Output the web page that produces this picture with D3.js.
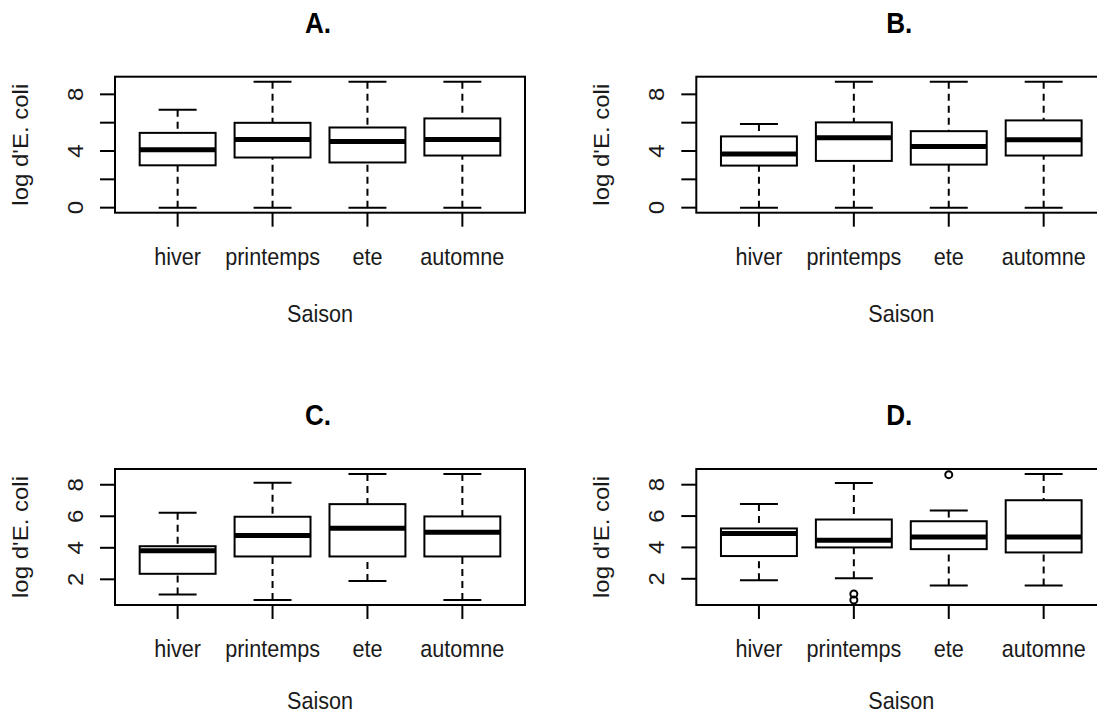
<!DOCTYPE html>
<html>
<head>
<meta charset="utf-8">
<script src="https://cdn.jsdelivr.net/npm/d3@7"></script>
<style>
  html, body { margin: 0; padding: 0; background: #fff; }
  svg { display: block; }
  text { font-family: "Liberation Sans", Arial, sans-serif; fill: #1a1a1a; }
</style>
</head>
<body>
<svg id="chart" width="1097" height="715"></svg>
<script>
// ---------------- data ----------------
const seasons = ["hiver", "printemps", "ete", "automne"];
const panelTitles = ["A.", "B.", "C.", "D."];
const xTitle = "Saison";
const yTitle = "log d'E. coli";

// five-number summaries per season: [lower whisker, Q1, median, Q3, upper whisker]
const statsA = [[0, 2.99, 4.08, 5.28, 6.91], [0, 3.54, 4.81, 5.99, 8.89], [0, 3.19, 4.67, 5.66, 8.89], [0, 3.68, 4.81, 6.30, 8.89]];
const statsB = [[0, 2.97, 3.79, 5.03, 5.90], [0, 3.30, 4.93, 6.02, 8.89], [0, 3.04, 4.32, 5.40, 8.89], [0, 3.68, 4.79, 6.16, 8.89]];
const statsC = [[1.03, 2.35, 3.81, 4.10, 6.22], [0.69, 3.45, 4.78, 5.97, 8.12], [1.90, 3.45, 5.24, 6.77, 8.68], [0.69, 3.45, 4.99, 5.99, 8.68]];
const statsD = [[1.90, 3.45, 4.89, 5.21, 6.77], [2.03, 4.00, 4.46, 5.78, 8.11], [1.58, 3.89, 4.67, 5.67, 6.35], [1.58, 3.68, 4.67, 7.01, 8.68]];
const outliersNone = [[], [], [], []];
const outliersD = [[], [1.03, 0.65], [8.64], []];

const yTicksTop = [0, 2, 4, 6, 8];
const yTickLabelsTop = ["0", "", "4", "", "8"];
const yTicksBottom = [2, 4, 6, 8];
const yTickLabelsBottom = ["2", "4", "6", "8"];

// ---------------- layout ----------------
const W = 1097, H = 715;
const PLOT_W = 410, PLOT_H = 136;
const panels = [
  { title: panelTitles[0], stats: statsA, outliers: outliersNone, ticks: yTicksTop, tickLabels: yTickLabelsTop, left: 115, top: 76.7 },
  { title: panelTitles[1], stats: statsB, outliers: outliersNone, ticks: yTicksTop, tickLabels: yTickLabelsTop, left: 696.3, top: 76.7 },
  { title: panelTitles[2], stats: statsC, outliers: outliersNone, ticks: yTicksBottom, tickLabels: yTickLabelsBottom, left: 115, top: 469 },
  { title: panelTitles[3], stats: statsD, outliers: outliersD, ticks: yTicksBottom, tickLabels: yTickLabelsBottom, left: 696.3, top: 469 }
];

const FS = 24, SX = 0.9, TITLE_FS = 29;
const svg = d3.select("#chart");

panels.forEach(p => {
  const g = svg.append("g");
  const left = p.left, right = p.left + PLOT_W, top = p.top, bottom = p.top + PLOT_H;

  // R-style scales: x over [0.5, n+0.5] extended 4%, y over data range extended 4%
  const n = seasons.length;
  const x = d3.scaleLinear().domain([0.5 - 0.04 * n, n + 0.5 + 0.04 * n]).range([left, right]);
  const allVals = p.stats.flat().concat(p.outliers.flat());
  const lo = d3.min(allVals), hi = d3.max(allVals), r = hi - lo;
  const y = d3.scaleLinear().domain([lo - 0.04 * r, hi + 0.04 * r]).range([bottom, top]);

  const boxW = x(1.4) - x(0.6);
  const capW = boxW / 2;

  p.stats.forEach((s, i) => {
    const cx = x(i + 1);
    const [wl, q1, med, q3, wh] = s;
    // whiskers (dashed) drawn from extreme toward box
    g.append("line").attr("x1", cx).attr("x2", cx).attr("y1", y(wl)).attr("y2", y(q1))
      .attr("stroke", "#000").attr("stroke-width", 2).attr("stroke-dasharray", "7,5");
    g.append("line").attr("x1", cx).attr("x2", cx).attr("y1", y(wh)).attr("y2", y(q3))
      .attr("stroke", "#000").attr("stroke-width", 2).attr("stroke-dasharray", "7,5");
    // caps
    [wl, wh].forEach(v => {
      g.append("line").attr("x1", cx - capW / 2).attr("x2", cx + capW / 2).attr("y1", y(v)).attr("y2", y(v))
        .attr("stroke", "#000").attr("stroke-width", 2);
    });
    // box
    g.append("rect").attr("x", cx - boxW / 2).attr("y", y(q3)).attr("width", boxW).attr("height", y(q1) - y(q3))
      .attr("fill", "#fff").attr("stroke", "#000").attr("stroke-width", 2);
    // median
    g.append("line").attr("x1", cx - boxW / 2).attr("x2", cx + boxW / 2).attr("y1", y(med)).attr("y2", y(med))
      .attr("stroke", "#000").attr("stroke-width", 5);
    // outliers
    p.outliers[i].forEach(v => {
      g.append("circle").attr("cx", cx).attr("cy", y(v)).attr("r", 3.5)
        .attr("fill", "none").attr("stroke", "#000").attr("stroke-width", 2);
    });
  });

  // frame
  g.append("rect").attr("x", left).attr("y", top).attr("width", PLOT_W).attr("height", PLOT_H)
    .attr("fill", "none").attr("stroke", "#000").attr("stroke-width", 2);

  // x ticks
  seasons.forEach((s, i) => {
    const cx = x(i + 1);
    g.append("line").attr("x1", cx).attr("x2", cx).attr("y1", bottom).attr("y2", bottom + 14)
      .attr("stroke", "#000").attr("stroke-width", 2);
    g.append("text").attr("text-anchor", "middle").attr("font-size", FS)
      .attr("transform", `translate(${cx},${bottom + 52}) scale(${SX},1)`).text(s);
  });

  // y ticks
  p.ticks.forEach((t, i) => {
    g.append("line").attr("x1", left - 15).attr("x2", left).attr("y1", y(t)).attr("y2", y(t))
      .attr("stroke", "#000").attr("stroke-width", 2);
    if (p.tickLabels[i]) {
      g.append("text").attr("text-anchor", "middle").attr("font-size", FS)
        .attr("transform", `translate(${left - 32},${y(t)}) scale(${SX},1) rotate(-90)`).text(p.tickLabels[i]);
    }
  });

  // axis titles
  const xTitleY = Math.min(bottom + 109, H - 6);
  g.append("text").attr("text-anchor", "middle").attr("font-size", FS)
    .attr("transform", `translate(${(left + right) / 2},${xTitleY}) scale(${SX},1)`).text(xTitle);
  g.append("text").attr("text-anchor", "middle").attr("font-size", FS)
    .attr("transform", `translate(${left - 87},${(top + bottom) / 2}) scale(${SX},1) rotate(-90)`).text(yTitle);

  // panel title
  g.append("text").attr("text-anchor", "middle").attr("font-size", TITLE_FS).attr("font-weight", "bold")
    .style("fill", "#000")
    .attr("transform", `translate(${(left + right) / 2 - 2},${top - 43.7}) scale(${SX},1)`).text(p.title);
});
</script>
</body>
</html>
